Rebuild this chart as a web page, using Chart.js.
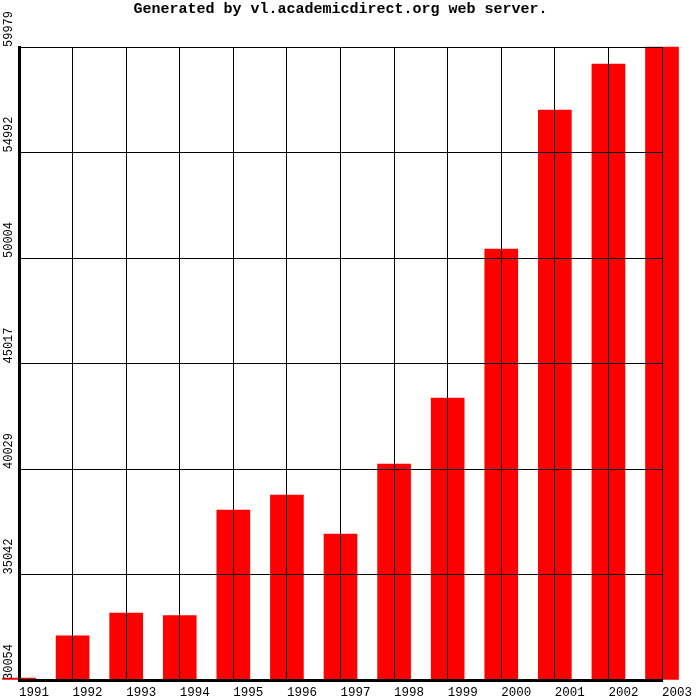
<!DOCTYPE html>
<html>
<head>
<meta charset="utf-8">
<script src="https://cdn.jsdelivr.net/npm/chart.js@4/dist/chart.umd.min.js"></script>
<style>
  html, body { margin: 0; padding: 0; background: #ffffff; }
  #wrap { width: 700px; height: 700px; }
</style>
</head>
<body>
<div id="wrap"><canvas id="c" width="700" height="700"></canvas></div>
<script>
const years = ['1991','1992','1993','1994','1995','1996','1997','1998','1999','2000','2001','2002','2003'];
const values = [30054, 32148, 33221, 33094, 38090, 38799, 36955, 40265, 43385, 50428, 56998, 59173, 59979];
const yTickValues = [30054, 35041.5, 40029, 45016.5, 50004, 54991.5, 59979];
const yTickLabels = ['30054','35042','40029','45017','50004','54992','59979'];
const titleText = 'Generated by vl.academicdirect.org web server.';

const rotatedYLabels = {
  id: 'rotatedYLabels',
  afterDraw(chart) {
    const ys = chart.scales.y;
    const ctx = chart.ctx;
    ctx.save();
    ctx.font = '12px "Liberation Mono", "DejaVu Sans Mono", monospace';
    ctx.fillStyle = '#000000';
    ctx.textAlign = 'left';
    ctx.textBaseline = 'alphabetic';
    ys.ticks.forEach((t, i) => {
      const py = ys.getPixelForValue(t.value);
      ctx.save();
      ctx.translate(12, py);
      ctx.rotate(-Math.PI / 2);
      ctx.fillText(yTickLabels[i], 0, 0);
      ctx.restore();
    });
    ctx.restore();
  }
};

new Chart(document.getElementById('c'), {
  type: 'bar',
  data: {
    labels: years,
    datasets: [{
      data: values,
      base: 30054,
      backgroundColor: '#ff0000',
      borderWidth: 0,
      barThickness: 33,
      minBarLength: 2,
      clip: { left: 25, right: 25, top: 5, bottom: 0 }
    }]
  },
  options: {
    responsive: false,
    animation: false,
    devicePixelRatio: 1,
    layout: { padding: { left: 19, right: 38, top: 0, bottom: 0 } },
    plugins: {
      legend: { display: false },
      tooltip: { enabled: false },
      title: {
        display: true,
        text: titleText,
        color: '#000000',
        font: { family: '"Liberation Mono", "DejaVu Sans Mono", monospace', size: 15, weight: 'bold' },
        padding: { top: 0, bottom: 29 }
      }
    },
    scales: {
      x: {
        type: 'category',
        offset: false,
        grid: { display: true, color: '#000000', lineWidth: 1, drawTicks: false, offset: false, z: 1 },
        border: { display: true, color: '#000000', width: 3, z: 1 },
        ticks: {
          color: '#000000',
          align: 'start',
          autoSkip: false,
          maxRotation: 0,
          minRotation: 0,
          padding: 5,
          font: { family: '"Liberation Mono", "DejaVu Sans Mono", monospace', size: 12.5 }
        },
        afterFit(s) { s.height = 20; }
      },
      y: {
        type: 'linear',
        min: 30054,
        max: 59979,
        afterBuildTicks(s) { s.ticks = yTickValues.map(v => ({ value: v })); },
        grid: { display: true, color: '#000000', lineWidth: 1, drawTicks: false, z: 1 },
        border: { display: true, color: '#000000', width: 3, z: 1 },
        ticks: { display: false },
        afterFit(s) { s.width = 0; }
      }
    }
  },
  plugins: [rotatedYLabels]
});
</script>
</body>
</html>
